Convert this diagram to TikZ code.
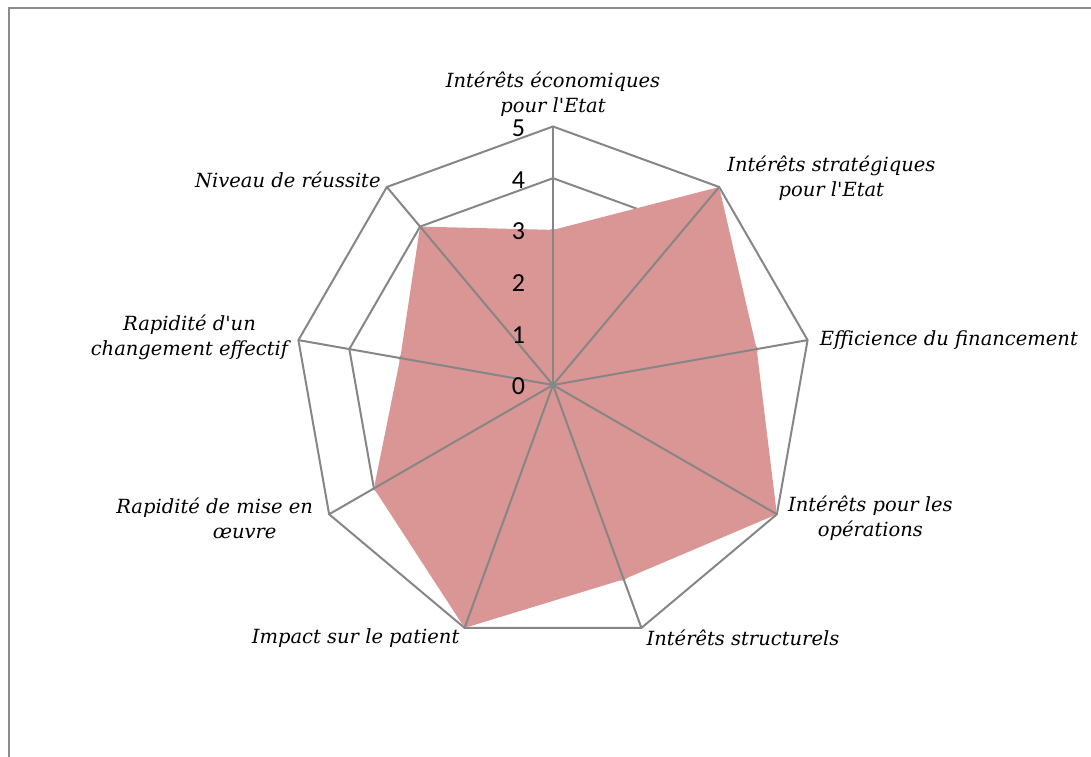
\documentclass[tikz,border=0pt]{standalone}
\usepackage{fontspec}
\usepackage{tikz}
\usetikzlibrary{positioning}
\newfontfamily\numfont{Carlito}
\newfontfamily\labfont{DejaVu Serif}
\definecolor{rdfill}{RGB}{217, 150, 148}
\definecolor{rdgrid}{RGB}{134, 134, 134}
\definecolor{rdframe}{RGB}{140, 140, 140}
\tikzset{
    gridline/.style={draw=rdgrid, line width=2pt},
    datafill/.style={fill=rdfill, draw=none},
    catlabel/.style={inner sep=0pt, align=center, font=\labfont\fontsize{19.5}{25}\selectfont\itshape},
    ticklabel/.style={inner sep=0pt, font=\fontsize{26}{30}\selectfont\numfont}
}

\begin{document}
\begin{tikzpicture}[x=1pt, y=1pt]
    \useasboundingbox (-553,-371) rectangle (538,385);
    \draw[draw=rdframe, line width=2pt] (-544.25,376.5) rectangle (560,-390);
    % grid polygons
    \foreach \lvl in {1,...,5} {
        \draw[gridline] (90:\lvl*51.7) \foreach \i in {1,...,8} { -- (90-\i*40:\lvl*51.7) } -- cycle;
    }
    % series
    \fill[datafill] (90:3*51.7) \foreach \v [count=\i] in {5,4,5,4,5,4,3,4} { -- (90-\i*40:\v*51.7) } -- cycle;
    % spokes
    \coordinate (c) at (0,0);
    \foreach \i in {0,...,8} {
        \coordinate (v\i) at (90-\i*40:5*51.7);
        \draw[gridline] (c) -- (v\i);
    }
    % axis values
    \foreach \t in {0,...,5}
        \node[ticklabel] (t\t) at (-34.5,\t*51.7-1.5) {\t};
    % categories
    \node[catlabel, above=10pt of v0] (l0) {Intérêts économiques\\pour l'Etat};
    \node[catlabel, right=8pt of v1, yshift=9pt] (l1) {Intérêts stratégiques\\pour l'Etat};
    \node[catlabel, right=12pt of v2] (l2) {Efficience du financement};
    \node[catlabel, right=11pt of v3, yshift=-4pt] (l3) {Intérêts pour les\\opérations};
    \node[catlabel, right=5pt of v4, yshift=-10pt] (l4) {Intérêts structurels};
    \node[catlabel, left=5pt of v5, yshift=-10pt] (l5) {Impact sur le patient};
    \node[catlabel, left=16pt of v6, yshift=-4pt] (l6) {Rapidité de mise en\\\hspace*{60pt}œuvre};
    \node[catlabel, left=10pt of v7, yshift=3pt] (l7) {Rapidité d'un\\changement effectif};
    \node[catlabel, left=6pt of v8, yshift=7pt] (l8) {Niveau de réussite};
\end{tikzpicture}
\end{document}
